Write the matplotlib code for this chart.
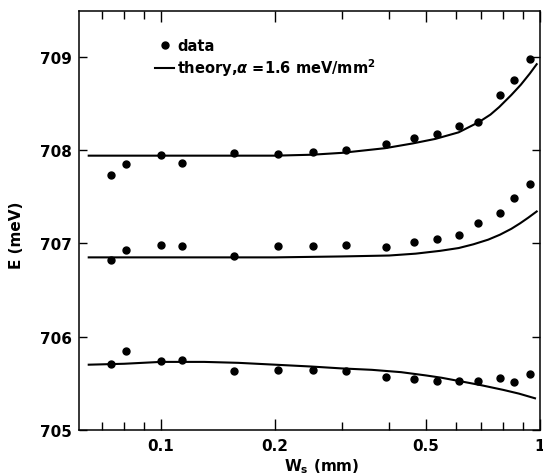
import numpy as np
import matplotlib
matplotlib.use("Agg")
import matplotlib.pyplot as plt
from matplotlib.ticker import FixedLocator, NullFormatter

# slit width (mm) for the measured points
w_data = [0.074, 0.081, 0.100, 0.114, 0.156, 0.204, 0.252, 0.307,
          0.393, 0.466, 0.534, 0.610, 0.685, 0.784, 0.852, 0.940]

# measured energies (meV), three levels
e_top = [707.73, 707.85, 707.95, 707.86, 707.97, 707.96, 707.98, 708.00,
         708.07, 708.13, 708.17, 708.26, 708.30, 708.59, 708.75, 708.98]
e_mid = [706.82, 706.93, 706.98, 706.97, 706.86, 706.97, 706.97, 706.98,
         706.96, 707.01, 707.05, 707.09, 707.22, 707.33, 707.49, 707.64]
e_low = [705.71, 705.85, 705.74, 705.75, 705.63, 705.64, 705.64, 705.63,
         705.57, 705.55, 705.53, 705.52, 705.52, 705.56, 705.51, 705.60]

# theory curves (alpha = 1.6 meV/mm^2)
w_th_top = [0.0645, 0.1, 0.2, 0.25, 0.3, 0.39, 0.46, 0.53, 0.61, 0.69,
            0.74, 0.78, 0.84, 0.89, 0.94, 0.98]
th_top = [707.94, 707.94, 707.94, 707.95, 707.97, 708.02, 708.07, 708.12,
          708.19, 708.30, 708.38, 708.46, 708.59, 708.70, 708.82, 708.92]

w_th_mid = [0.0645, 0.1, 0.2, 0.3, 0.4, 0.47, 0.545, 0.61, 0.667, 0.73,
            0.784, 0.84, 0.886, 0.93, 0.98]
th_mid = [706.85, 706.85, 706.85, 706.86, 706.87, 706.89, 706.92, 706.95,
          706.99, 707.04, 707.093, 707.156, 707.215, 707.274, 707.342]

w_th_low = [0.0645, 0.08, 0.1, 0.13, 0.16, 0.2, 0.25, 0.3, 0.36, 0.43,
            0.5, 0.55, 0.65, 0.7, 0.8, 0.88, 0.97]
th_low = [705.70, 705.71, 705.73, 705.73, 705.72, 705.70, 705.68, 705.66,
          705.645, 705.62, 705.585, 705.56, 705.505, 705.48, 705.43, 705.39,
          705.34]

x_major = [0.1, 0.2, 0.5, 1.0]
x_major_labels = ["0.1", "0.2", "0.5", "1"]
x_minor = [0.07, 0.08, 0.09, 0.3, 0.4, 0.6, 0.7, 0.8, 0.9]
y_ticks = [705, 706, 707, 708, 709]

plt.rcParams['font.family'] = ['DejaVu Sans']
plt.rcParams['font.weight'] = 'bold'

fig = plt.figure(figsize=(5.43, 4.77), dpi=100)
ax = fig.add_axes([0.1455, 0.0964, 0.849, 0.8784])

ax.plot(w_th_top, th_top, color='black', lw=1.5, label=r'theory,$\alpha$ =1.6 meV/mm$^2$')
ax.plot(w_th_mid, th_mid, color='black', lw=1.5)
ax.plot(w_th_low, th_low, color='black', lw=1.5)

ax.plot(w_data, e_top, 'o', color='black', ms=5, label='data')
ax.plot(w_data, e_mid, 'o', color='black', ms=5)
ax.plot(w_data, e_low, 'o', color='black', ms=5)

ax.set_xscale('log')
ax.set_xlim(0.0608, 1.0)
ax.set_ylim(705, 709.49)

ax.xaxis.set_major_locator(FixedLocator(x_major))
ax.set_xticklabels(x_major_labels)
ax.xaxis.set_minor_locator(FixedLocator(x_minor))
ax.xaxis.set_minor_formatter(NullFormatter())
ax.set_yticks(y_ticks)
ax.set_yticklabels([str(v) for v in y_ticks])

ax.tick_params(axis='both', which='both', direction='in', top=True, right=True,
               width=1.0, labelsize=11)
ax.tick_params(axis='x', which='major', length=8, pad=6)
ax.tick_params(axis='x', which='minor', length=5.5)
ax.tick_params(axis='y', which='major', length=6, pad=5)
for s in ax.spines.values():
    s.set_linewidth(1.1)

ax.set_xlabel('W$_\\mathbf{s}$ (mm)', fontsize=11, fontweight='bold')
ax.set_ylabel('E (meV)', fontsize=11, fontweight='bold')
ax.xaxis.set_label_coords(0.527, -0.062)
ax.yaxis.set_label_coords(-0.12, 0.468)

handles, labels = ax.get_legend_handles_labels()
leg = ax.legend(handles[::-1], labels[::-1], loc='upper left',
                bbox_to_anchor=(0.165, 0.935), frameon=False, fontsize=10.5,
                handlelength=1.3, handletextpad=0.2, borderpad=0,
                borderaxespad=0, labelspacing=0.2, numpoints=1)

fig.savefig('out.png', dpi=100)
